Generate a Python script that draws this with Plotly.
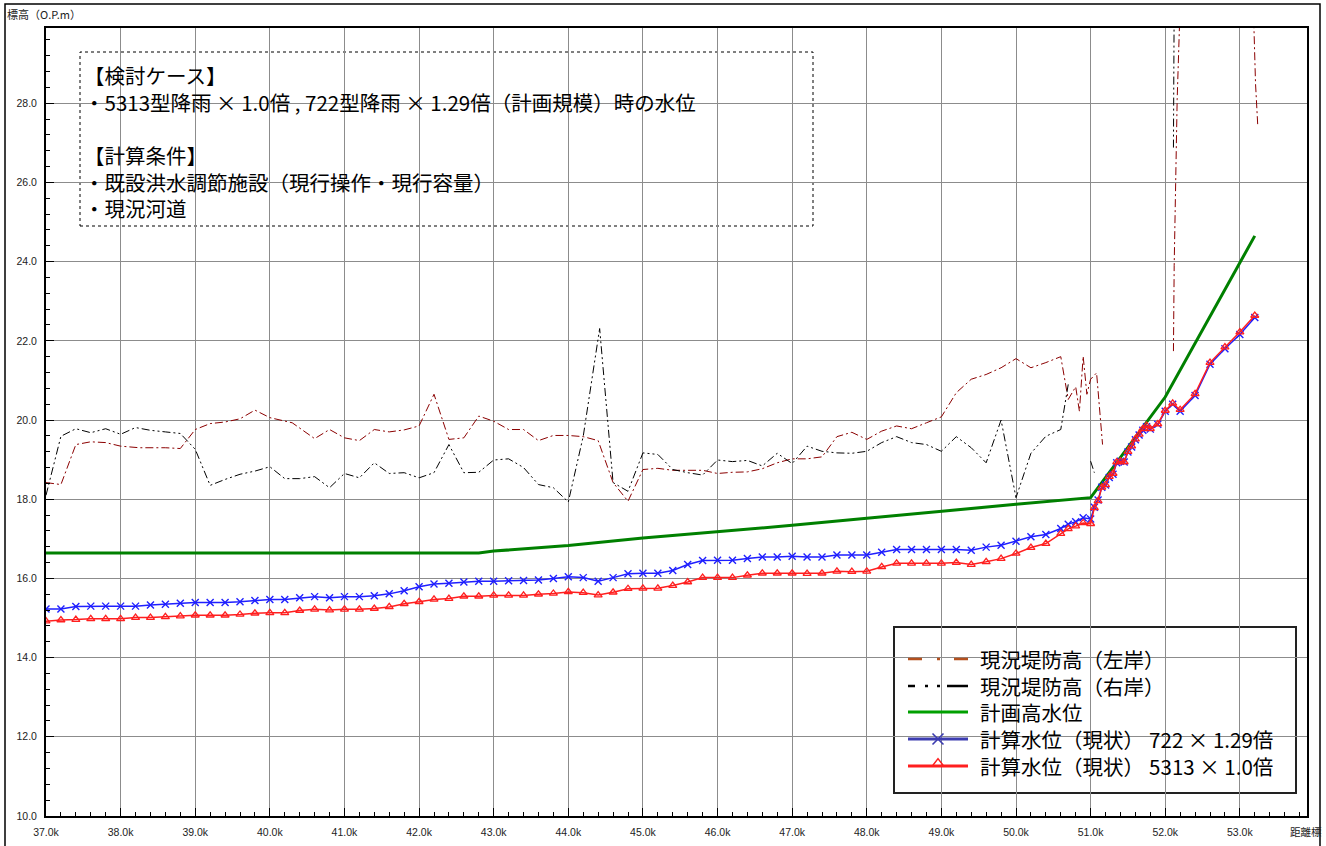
import plotly.graph_objects as go

# ---- distance markers (km) for the computed water levels ----
calc_km = [
    37.0, 37.2, 37.4, 37.6, 37.8, 38.0, 38.2, 38.4, 38.6, 38.8,
    39.0, 39.2, 39.4, 39.6, 39.8, 40.0, 40.2, 40.4, 40.6, 40.8,
    41.0, 41.2, 41.4, 41.6, 41.8, 42.0, 42.2, 42.4, 42.6, 42.8,
    43.0, 43.2, 43.4, 43.6, 43.8, 44.0, 44.2, 44.4, 44.6, 44.8,
    45.0, 45.2, 45.4, 45.6, 45.8, 46.0, 46.2, 46.4, 46.6, 46.8,
    47.0, 47.2, 47.4, 47.6, 47.8, 48.0, 48.2, 48.4, 48.6, 48.8,
    49.0, 49.2, 49.4, 49.6, 49.8, 50.0, 50.2, 50.4, 50.6, 50.7,
    50.8, 50.9, 51.0, 51.05, 51.1, 51.15, 51.2, 51.25, 51.3, 51.35,
    51.4, 51.45, 51.5, 51.55, 51.6, 51.65, 51.7, 51.75, 51.8, 51.9,
    52.0, 52.1, 52.2, 52.4, 52.6, 52.8, 53.0, 53.2,
]

# computed water level, 722-type rainfall x1.29 (O.P. m)
level_722 = [
    15.23, 15.23, 15.29, 15.30, 15.30, 15.30, 15.30, 15.33, 15.35, 15.37,
    15.39, 15.39, 15.39, 15.41, 15.44, 15.47, 15.47, 15.51, 15.54, 15.51,
    15.54, 15.54, 15.56, 15.61, 15.69, 15.79, 15.86, 15.88, 15.91, 15.93,
    15.93, 15.94, 15.95, 15.96, 16.00, 16.04, 16.02, 15.93, 16.02, 16.12,
    16.13, 16.13, 16.20, 16.35, 16.45, 16.46, 16.46, 16.50, 16.54, 16.54,
    16.56, 16.54, 16.54, 16.59, 16.59, 16.59, 16.66, 16.73, 16.73, 16.73,
    16.73, 16.73, 16.71, 16.79, 16.84, 16.94, 17.05, 17.11, 17.26, 17.37,
    17.43, 17.53, 17.50, 17.80, 17.98, 18.30, 18.36, 18.55, 18.63, 18.92,
    18.96, 18.94, 19.19, 19.32, 19.50, 19.62, 19.74, 19.83, 19.77, 19.89,
    20.22, 20.40, 20.22, 20.62, 21.41, 21.80, 22.16, 22.59,
]

# computed water level, 5313-type rainfall x1.0 (O.P. m)
level_5313 = [
    14.92, 14.95, 14.96, 14.98, 14.98, 14.98, 15.01, 15.01, 15.03, 15.05,
    15.07, 15.07, 15.07, 15.09, 15.12, 15.13, 15.13, 15.19, 15.22, 15.20,
    15.22, 15.22, 15.24, 15.28, 15.36, 15.41, 15.47, 15.49, 15.55, 15.55,
    15.57, 15.57, 15.57, 15.60, 15.62, 15.66, 15.64, 15.58, 15.65, 15.74,
    15.75, 15.75, 15.82, 15.91, 16.02, 16.02, 16.02, 16.08, 16.13, 16.13,
    16.13, 16.12, 16.13, 16.18, 16.17, 16.18, 16.29, 16.38, 16.38, 16.38,
    16.38, 16.40, 16.35, 16.42, 16.50, 16.63, 16.78, 16.88, 17.13, 17.25,
    17.32, 17.40, 17.38, 17.78, 17.96, 18.30, 18.36, 18.57, 18.65, 18.94,
    18.96, 18.94, 19.20, 19.34, 19.52, 19.64, 19.78, 19.86, 19.78, 19.90,
    20.24, 20.42, 20.26, 20.66, 21.45, 21.84, 22.22, 22.64,
]

# planned high water level
hwl_km = [37.0, 42.8, 43.0, 44.0, 45.0, 46.0, 47.0, 48.0, 49.0, 50.0, 51.0, 52.0, 53.2]
hwl_level = [16.64, 16.64, 16.69, 16.83, 17.02, 17.18, 17.34, 17.52, 17.70, 17.87, 18.04, 20.58, 24.65]

# existing levee crown, left bank (None = no levee section)
left_km = [
    37.0, 37.2, 37.4, 37.6, 37.8, 38.0, 38.25, 38.6, 38.8, 39.0,
    39.2, 39.4, 39.6, 39.8, 40.0, 40.3, 40.6, 40.8, 41.0, 41.2,
    41.4, 41.6, 41.8, 42.0, 42.2, 42.4, 42.6, 42.8, 43.0, 43.2,
    43.4, 43.6, 43.8, 44.0, 44.2, 44.4, 44.6, 44.8, 45.0, 45.2,
    45.4, 45.6, 45.8, 46.0, 46.2, 46.4, 46.6, 46.8, 47.0, 47.2,
    47.4, 47.6, 47.8, 48.0, 48.2, 48.4, 48.6, 48.8, 49.0, 49.2,
    49.4, 49.6, 49.8, 50.0, 50.2, 50.4, 50.6, 50.7, 50.8, 50.85,
    50.9, 50.95, 51.0, 51.08, 51.16, None, 52.11, 52.12, 52.16, 52.20,
    None, 53.18, 53.21, 53.24,
]
left_levee = [
    18.42, 18.37, 19.38, 19.45, 19.43, 19.34, 19.30, 19.30, 19.28, 19.76,
    19.91, 19.95, 20.03, 20.25, 20.06, 19.93, 19.53, 19.76, 19.55, 19.48,
    19.76, 19.70, 19.75, 19.85, 20.65, 19.51, 19.55, 20.10, 19.97, 19.76,
    19.76, 19.48, 19.61, 19.61, 19.58, 19.48, 18.42, 17.95, 18.75, 18.78,
    18.73, 18.73, 18.73, 18.65, 18.68, 18.69, 18.77, 18.92, 19.02, 19.02,
    19.07, 19.58, 19.69, 19.51, 19.72, 19.85, 19.78, 19.93, 20.08, 20.69,
    21.03, 21.15, 21.32, 21.55, 21.32, 21.45, 21.60, 20.52, 20.84, 20.22,
    21.61, 20.65, 21.03, 21.19, 19.38, None, 21.74, 23.90, 28.10, 30.50,
    None, 30.50, 28.50, 27.44,
]

# existing levee crown, right bank
right_km = [
    37.0, 37.2, 37.4, 37.6, 37.8, 38.0, 38.2, 38.4, 38.6, 38.8,
    39.0, 39.2, 39.4, 39.6, 39.8, 40.0, 40.2, 40.4, 40.6, 40.8,
    41.0, 41.2, 41.4, 41.6, 41.8, 42.0, 42.2, 42.4, 42.6, 42.8,
    43.0, 43.2, 43.4, 43.6, 43.8, 44.0, 44.2, 44.42, 44.6, 44.8,
    45.0, 45.2, 45.4, 45.6, 45.8, 46.0, 46.2, 46.4, 46.6, 46.8,
    47.0, 47.2, 47.4, 47.6, 47.8, 48.0, 48.2, 48.4, 48.6, 48.8,
    49.0, 49.2, 49.4, 49.6, 49.8, 50.0, 50.2, 50.4, 50.6, 50.7,
    None, 51.0, 51.05, None, 52.11, 52.12,
]
right_levee = [
    18.10, 19.59, 19.78, 19.68, 19.78, 19.64, 19.81, 19.74, 19.70, 19.66,
    19.26, 18.35, 18.50, 18.63, 18.71, 18.82, 18.52, 18.52, 18.57, 18.29,
    18.65, 18.54, 18.92, 18.65, 18.67, 18.54, 18.67, 19.38, 18.67, 18.68,
    18.99, 19.02, 18.80, 18.37, 18.29, 17.93, 19.59, 22.31, 18.42, 18.20,
    19.17, 19.13, 18.75, 18.67, 18.61, 18.99, 18.95, 18.98, 18.84, 19.16,
    18.90, 19.34, 19.21, 19.17, 19.16, 19.21, 19.43, 19.58, 19.43, 19.38,
    19.21, 19.58, 19.30, 18.92, 20.00, 18.04, 19.16, 19.59, 19.76, 20.90,
    None, 18.96, 18.67, None, 26.88, 30.50,
]

major_km = [37, 38, 39, 40, 41, 42, 43, 44, 45, 46, 47, 48, 49, 50, 51, 52, 53]
major_km_text = ["37.0k", "38.0k", "39.0k", "40.0k", "41.0k", "42.0k", "43.0k", "44.0k", "45.0k",
                 "46.0k", "47.0k", "48.0k", "49.0k", "50.0k", "51.0k", "52.0k", "53.0k"]
level_ticks = [10, 12, 14, 16, 18, 20, 22, 24, 26, 28]

legend_names = ["現況堤防高（左岸）", "現況堤防高（右岸）", "計画高水位",
                "計算水位（現状）\u2005722 × 1.29倍", "計算水位（現状）\u20055313 × 1.0倍"]

case_lines = [
    "【検討ケース】",
    "・5313型降雨 × 1.0倍 , 722型降雨 × 1.29倍（計画規模）時の水位",
    "【計算条件】",
    "・既設洪水調節施設（現行操作・現行容量）",
    "・現況河道",
]

# ---- page geometry (px) ----
W, H = 1326, 846
PL, PR, PT, PB = 46, 1307, 28, 816


def px_u(px):
    return (px - PL) / (PR - PL)


def px_v(py):
    return (PB - py) / (PB - PT)


JP = "Noto Sans CJK JP"
LEFT_C = "#8b0000"
BLUE_C = "#1f1fff"
RED_C = "#ff1f1f"
GREEN_C = "#008000"

fig = go.Figure()

fig.add_trace(go.Scatter(x=left_km, y=left_levee, mode="lines",
                         line=dict(color=LEFT_C, width=1, dash="8px,3px,2px,3px"),
                         connectgaps=False, hoverinfo="skip"))
fig.add_trace(go.Scatter(x=right_km, y=right_levee, mode="lines",
                         line=dict(color="black", width=1, dash="8px,3px,2px,3px,2px,3px"),
                         connectgaps=False, hoverinfo="skip"))
fig.add_trace(go.Scatter(x=hwl_km, y=hwl_level, mode="lines",
                         line=dict(color=GREEN_C, width=3)))
fig.add_trace(go.Scatter(x=calc_km, y=level_722, mode="lines+markers",
                         line=dict(color=BLUE_C, width=1.5),
                         marker=dict(symbol="x-thin", size=7,
                                     line=dict(color=BLUE_C, width=1.4))))
fig.add_trace(go.Scatter(x=calc_km, y=level_5313, mode="lines+markers",
                         line=dict(color=RED_C, width=1.5),
                         marker=dict(symbol="triangle-up-open", size=7, color=RED_C,
                                     line=dict(color=RED_C, width=1.3))))

# ---- legend panel drawn on an overlay axis spanning the plot area ----
legend_rows = [659, 686, 712, 739, 766]
legend_styles = [
    dict(color="#b4501e", width=2.5, dash="14px,15px,3px,14px,14px"),
    dict(color="black", width=2.5, dash="7px,10px,3px,9px,3px,7px,21px"),
    dict(color="#00a000", width=3),
    dict(color="#3c3cb0", width=3),
    dict(color="#ff1f1f", width=3),
]
for row, style in zip(legend_rows, legend_styles):
    fig.add_trace(go.Scatter(x=[px_u(908), px_u(968)], y=[px_v(row), px_v(row)],
                             mode="lines", line=style, xaxis="x2", yaxis="y2",
                             hoverinfo="skip", cliponaxis=False))
fig.add_trace(go.Scatter(x=[px_u(938)], y=[px_v(legend_rows[3])], mode="markers",
                         marker=dict(symbol="x-thin", size=11, line=dict(color="#3c3cb0", width=1.6)),
                         xaxis="x2", yaxis="y2", hoverinfo="skip", cliponaxis=False))
fig.add_trace(go.Scatter(x=[px_u(938)], y=[px_v(legend_rows[4]) + 0.003], mode="markers",
                         marker=dict(symbol="triangle-up-open", size=10, color="#ff1f1f",
                                     line=dict(color="#ff1f1f", width=1.5)),
                         xaxis="x2", yaxis="y2", hoverinfo="skip", cliponaxis=False))

annotations = []
for row, name in zip(legend_rows, legend_names):
    annotations.append(dict(x=px_u(979), y=px_v(row), xref="paper", yref="paper",
                            text=name, showarrow=False, xanchor="left", yanchor="middle",
                            borderpad=0, font=dict(family=JP, size=20.5, color="black")))

case_rows = [75, 102, 155, 182, 208]
for row, line in zip(case_rows, case_lines):
    annotations.append(dict(x=px_u(83), y=px_v(row), xref="paper", yref="paper",
                            text=line, showarrow=False, xanchor="left", yanchor="middle",
                            borderpad=0, font=dict(family=JP, size=20.5, color="black")))

annotations.append(dict(x=px_u(5), y=px_v(14), xref="paper", yref="paper",
                        text="標高（O.P.m）", showarrow=False, xanchor="left", yanchor="middle",
                        font=dict(family=JP, size=11, color="#222")))
annotations.append(dict(x=px_u(1306), y=px_v(831), xref="paper", yref="paper",
                        text="距離標", showarrow=False, xanchor="center", yanchor="middle",
                        font=dict(family=JP, size=10.5, color="#222")))

shapes = [
    # case description box
    dict(type="rect", xref="paper", yref="paper",
         x0=px_u(80), x1=px_u(813), y0=px_v(226), y1=px_v(52),
         line=dict(color="black", width=1, dash="dot"), fillcolor="white", layer="between"),
    # legend frame
    dict(type="rect", xref="paper", yref="paper",
         x0=px_u(894), x1=px_u(1296), y0=px_v(793), y1=px_v(627),
         line=dict(color="#222", width=2), fillcolor="white", layer="between"),
    # outer frame
    dict(type="rect", xref="paper", yref="paper",
         x0=px_u(5), x1=px_u(1320), y0=px_v(852), y1=px_v(4),
         line=dict(color="black", width=1.5), fillcolor="rgba(0,0,0,0)", layer="above"),
]

tick_font = dict(family="Liberation Sans", size=10.5, color="#222")

fig.update_layout(
    width=W, height=H,
    margin=dict(l=PL, r=W - PR, t=PT, b=H - PB, autoexpand=False),
    paper_bgcolor="white", plot_bgcolor="white",
    showlegend=False,
    annotations=annotations,
    shapes=shapes,
    xaxis=dict(range=[37.0, 53.9], tickvals=major_km, ticktext=major_km_text,
               ticks="inside", ticklen=8, tickcolor="black", tickwidth=1,
               ticklabelstandoff=5, automargin=False,
               showgrid=True, gridcolor="#8c8c8c", gridwidth=1,
               showline=True, linecolor="black", linewidth=2, mirror=True,
               zeroline=False, tickfont=tick_font,
               minor=dict(tick0=37.0, dtick=0.2, ticks="inside", ticklen=4,
                          tickcolor="black", showgrid=False)),
    yaxis=dict(range=[10.0, 29.9], tickvals=level_ticks, tickformat=".1f",
               ticks="inside", ticklen=8, tickcolor="black", tickwidth=1,
               ticklabelstandoff=5, automargin=False,
               showgrid=True, gridcolor="#8c8c8c", gridwidth=1,
               showline=True, linecolor="black", linewidth=2, mirror=True,
               zeroline=False, tickfont=tick_font,
               minor=dict(tick0=10.0, dtick=0.4, ticks="inside", ticklen=4,
                          tickcolor="black", showgrid=False)),
    xaxis2=dict(overlaying="x", range=[0, 1], visible=False, anchor="y2"),
    yaxis2=dict(overlaying="y", range=[0, 1], visible=False, anchor="x2"),
)

fig.write_html("out.html")
